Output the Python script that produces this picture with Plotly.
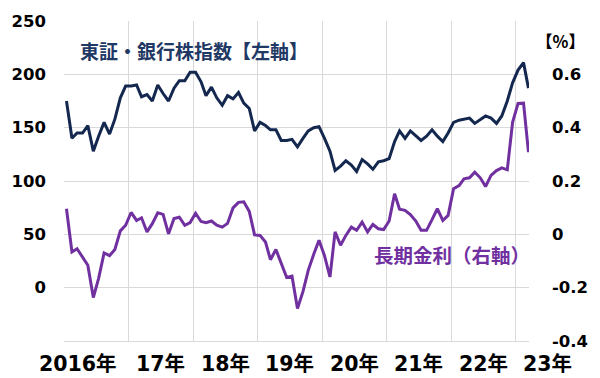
import pandas as pd
import plotly.graph_objects as go

# Monthly dates Jan 2016 - Mar 2023 (plotted mid-month)
dates = pd.date_range("2016-01-01", periods=87, freq="MS") + pd.Timedelta(days=14)

bank_index = [
    175, 140, 145, 145, 152, 128, 142, 155, 144, 158, 178, 189,   # 2016
    189, 190, 179, 181, 175, 190, 182, 175, 187, 194, 194, 202,   # 2017
    202, 193, 180, 188, 178, 171, 180, 177, 183, 173, 168, 147,   # 2018
    155, 152, 148, 148, 138, 138, 139, 132, 140, 147, 150, 151,   # 2019
    140, 128, 110, 114, 119, 115, 109, 120, 116, 111, 118, 119,   # 2020
    121, 137, 147, 140, 147, 142, 138, 142, 148, 142, 137, 145,   # 2021
    155, 157, 158, 159, 154, 158, 161, 159, 154, 161, 175, 192,   # 2022
    204, 211, 187,                                                # 2023
]

jgb_yield = [
    0.096, -0.066, -0.054, -0.088, -0.116, -0.237, -0.165, -0.070, -0.080, -0.057, 0.013, 0.034,   # 2016
    0.082, 0.052, 0.062, 0.009, 0.040, 0.081, 0.075, 0.002, 0.059, 0.064, 0.034, 0.044,            # 2017
    0.079, 0.048, 0.044, 0.050, 0.034, 0.027, 0.041, 0.099, 0.120, 0.122, 0.086, -0.002,           # 2018
    -0.004, -0.029, -0.095, -0.057, -0.108, -0.162, -0.157, -0.278, -0.215, -0.135, -0.075, -0.022,# 2019
    -0.080, -0.160, 0.009, -0.041, -0.004, 0.027, 0.015, 0.046, 0.009, 0.037, 0.021, 0.018,        # 2020
    0.050, 0.152, 0.094, 0.090, 0.074, 0.050, 0.015, 0.015, 0.055, 0.096, 0.052, 0.071,            # 2021
    0.171, 0.183, 0.208, 0.212, 0.233, 0.212, 0.179, 0.221, 0.239, 0.249, 0.242, 0.420,            # 2022
    0.491, 0.492, 0.308,                                                                           # 2023
]

year_labels = ["2016年", "17年", "18年", "19年", "20年", "21年", "22年", "23年"]
year_label_pos = ["2016-03-20", "2017-07-01", "2018-07-01", "2019-07-01",
                  "2020-07-01", "2021-07-01", "2022-07-01", "2023-07-01"]
year_starts = [f"{y}-01-01" for y in range(2016, 2024)]

left_ticks = [-50, 0, 50, 100, 150, 200, 250]
left_text = ["", "0", "50", "100", "150", "200", "250"]
right_ticks = [-0.4, -0.2, 0, 0.2, 0.4, 0.6]
right_text = ["-0.4", "-0.2", "0", "0.2", "0.4", "0.6"]

X_RANGE = ["2016-01-01", "2023-03-18"]

NAVY = "#14284f"
PURPLE = "#7030a0"
GRID = "#d9d9d9"
FONT = "DejaVu Sans, Noto Sans CJK JP, sans-serif"
JFONT = "Noto Sans CJK JP, sans-serif"

fig = go.Figure()
fig.add_trace(go.Scatter(x=dates, y=bank_index, mode="lines",
                         line=dict(color=NAVY, width=3), yaxis="y", showlegend=False))
fig.add_trace(go.Scatter(x=dates, y=jgb_yield, mode="lines",
                         line=dict(color=PURPLE, width=3), yaxis="y2", showlegend=False))

annotations = [
    dict(text="東証・銀行株指数【左軸】", xref="paper", yref="paper",
         x=(191 - 57) / 480, y=1 - (50 - 20) / 321, xanchor="center", yanchor="middle",
         showarrow=False, font=dict(family=JFONT, size=19, color="#1f3864", weight="bold")),
    dict(text="長期金利（右軸）", xref="paper", yref="paper",
         x=(458 - 57) / 480, y=1 - (254 - 20) / 321, xanchor="center", yanchor="middle",
         showarrow=False, font=dict(family=JFONT, size=19.5, color=PURPLE, weight="bold")),
    dict(text="【%】", xref="paper", yref="paper",
         x=(569 - 57) / 480, y=1 - (40 - 20) / 321, xanchor="center", yanchor="middle",
         showarrow=False, font=dict(family=JFONT, size=16.5, color="black", weight="bold")),
]
x0 = pd.Timestamp(X_RANGE[0])
x1 = pd.Timestamp(X_RANGE[1])
for lab, pos in zip(year_labels, year_label_pos):
    frac = (pd.Timestamp(pos) - x0) / (x1 - x0)
    annotations.append(dict(text=lab, xref="paper", yref="paper", x=frac,
                            y=1 - (364 - 20) / 321, xanchor="center", yanchor="middle",
                            showarrow=False,
                            font=dict(family=FONT, size=20.5, color="black", weight="bold")))

fig.update_layout(
    width=600, height=378,
    margin=dict(l=57, r=63, t=20, b=37),
    paper_bgcolor="white", plot_bgcolor="white",
    font=dict(family=FONT, size=16, color="black"),
    xaxis=dict(
        type="date", range=X_RANGE,
        showticklabels=False, showgrid=False, ticks="",
        minor=dict(tickvals=year_starts, showgrid=True, gridcolor=GRID, gridwidth=1, ticks=""),
        showline=True, linecolor=GRID, linewidth=1, mirror=False, zeroline=False,
    ),
    yaxis=dict(
        range=[-50, 250], tickvals=left_ticks, ticktext=left_text,
        tickfont=dict(family=FONT, size=16.5, weight="bold"),
        showgrid=True, gridcolor=GRID, gridwidth=1, zeroline=False, ticks="",
        ticklabelstandoff=17,
    ),
    yaxis2=dict(
        range=[-0.4, 0.8], overlaying="y", side="right",
        tickvals=right_ticks, ticktext=right_text,
        tickfont=dict(family=FONT, size=16.5, weight="bold"),
        showgrid=False, zeroline=False, ticks="", ticklabelstandoff=22,
    ),
    annotations=annotations,
)

fig.write_html("out.html")
